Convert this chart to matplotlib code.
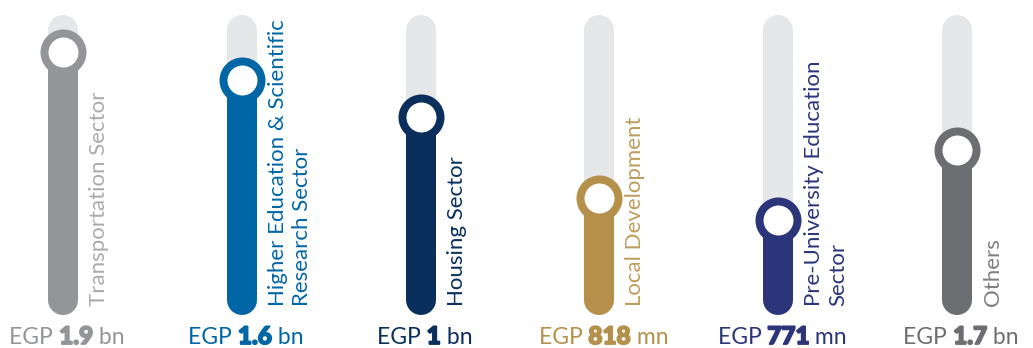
import numpy as np
import matplotlib
matplotlib.use("Agg")
import matplotlib.pyplot as plt
import matplotlib.patheffects as pe

# data
sectors = ["Transportation Sector",
           "Higher Education & Scientific\nResearch Sector",
           "Housing Sector",
           "Local Development",
           "Pre-University Education\nSector",
           "Others"]
amounts = ["1.9", "1.6", "1", "818", "771", "1.7"]
units = ["bn", "bn", "bn", "mn", "mn", "bn"]
levels = [92, 81.5, 67.6, 37.8, 29.6, 55.6]  # fill level, % of track
colors = ["#939598", "#0066a6", "#0a2f5c", "#b5904a", "#2c357a", "#6d6e71"]
label_colors = ["#a9abae", "#0066a6", "#0a2f5c", "#bf9d5c", "#2c357a", "#7d7e81"]
track_color = "#e6e7e8"

W, H, DPI = 1033, 348, 100
fig = plt.figure(figsize=(W / DPI, H / DPI), dpi=DPI)
ax = fig.add_axes([0, 0, 1, 1])
ax.set_xlim(-63 / 178.8, (W - 63) / 178.8)
ax.set_ylim((300 - H) / 2.7, 300 / 2.7)
ax.axis("off")

px = 72 / DPI  # points per pixel
x = np.arange(len(sectors))

for i in x:
    # background track
    ax.plot([i, i], [0, 100], color=track_color, lw=30 * px,
            solid_capstyle="round", zorder=1)
    # filled part
    ax.plot([i, i], [0, levels[i]], color=colors[i], lw=30 * px,
            solid_capstyle="round", zorder=2)
    # knob
    ax.plot(i, levels[i], marker="o", markersize=38 * px, mew=8 * px,
            mec=colors[i], mfc="white", zorder=3)
    # rotated label
    ax.text(i + 26 / 178.8, -2.2, sectors[i], rotation=90, rotation_mode="anchor",
            ha="left", va="top", color=label_colors[i], fontsize=16,
            family="Lato", fontweight="normal", linespacing=1.25)

# bottom value texts, mixed weights
fig.canvas.draw()
r = fig.canvas.get_renderer()
for i in x:
    parts = [("EGP ", "normal", 16.5), (amounts[i], "black", 17.5),
             (" " + units[i], "normal", 16.5)]
    texts = []
    for s, w, fs in parts:
        t = ax.text(0, 0, s, fontsize=fs, family="Lato", fontweight=w,
                    color=colors[i], ha="left", va="baseline")
        if w == "black":
            t.set_path_effects([pe.withStroke(linewidth=1.3, foreground=colors[i])])
        texts.append(t)
    widths = [t.get_window_extent(r).width for t in texts]
    cx, cy = ax.transData.transform((i, -16.3))
    start = cx + 4 - sum(widths) / 2
    for t, w in zip(texts, widths):
        t.set_position(ax.transData.inverted().transform((start, cy)))
        start += w

fig.savefig("out.png", dpi=DPI)
